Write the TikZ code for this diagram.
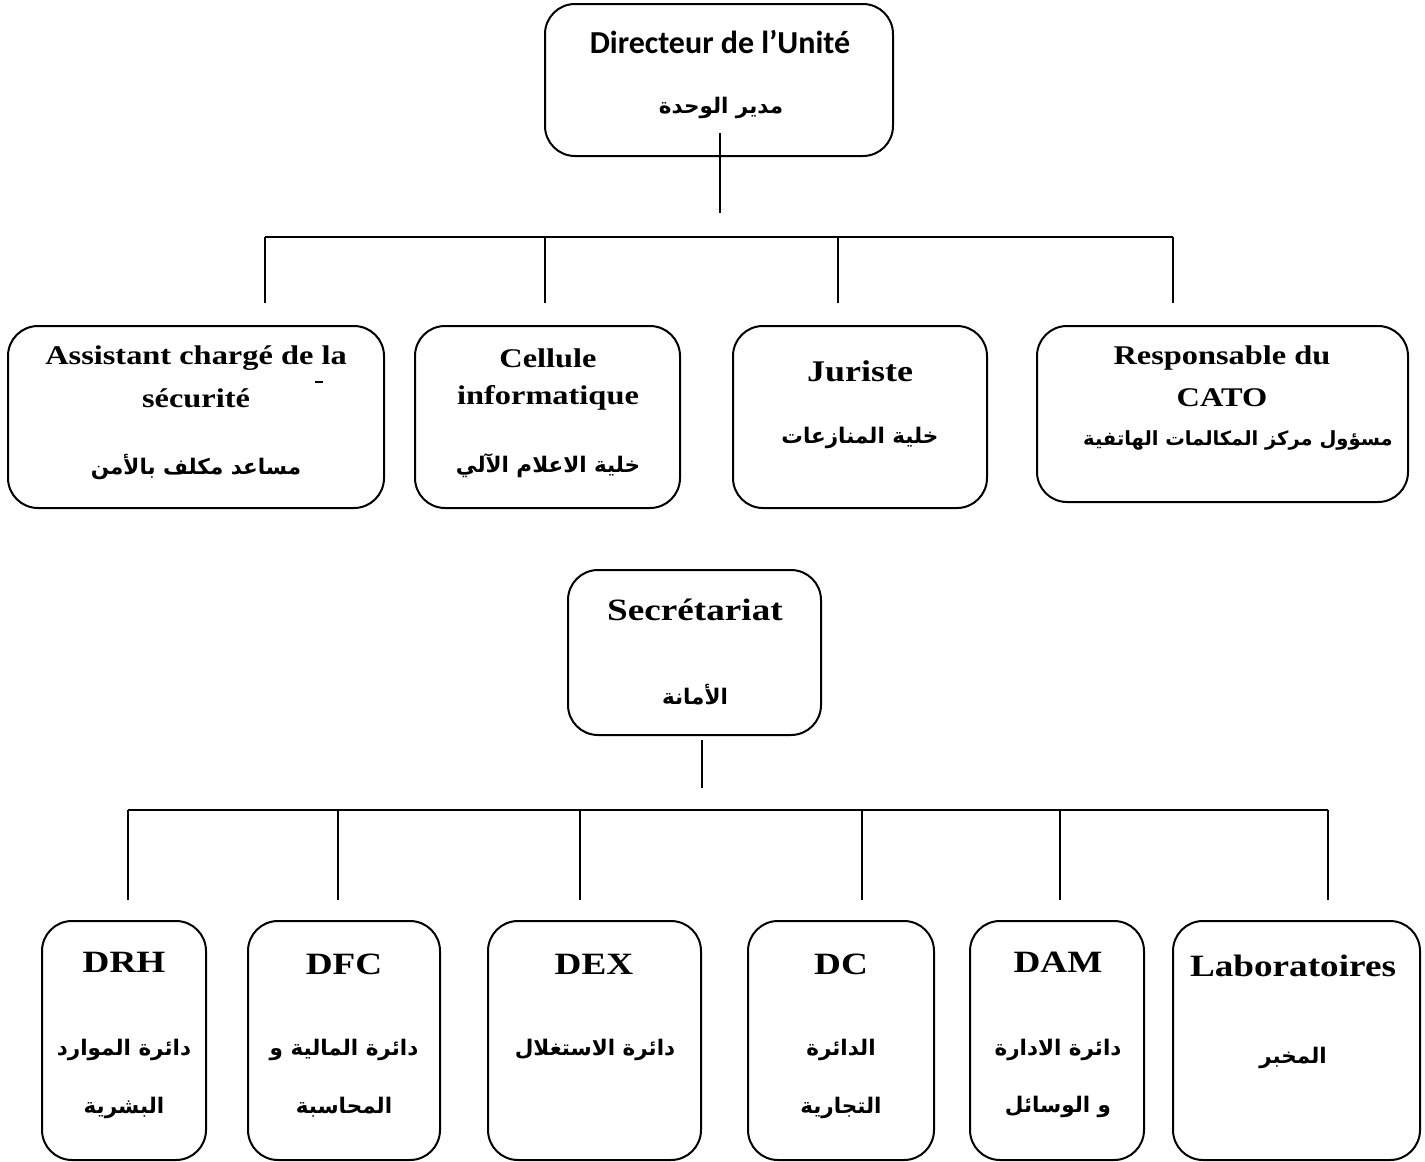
\documentclass[tikz,border=0pt]{standalone}
\usepackage{fontspec}
\TeXXeTstate=1
\setmainfont[FakeStretch=1.2]{Liberation Serif}
\newfontfamily\calfont{Carlito}
\newfontfamily\arabicfont[Script=Arabic]{DejaVu Sans}
\begin{document}
\begin{tikzpicture}[x=1pt,y=-1pt,
  box/.style={draw, line width=2pt, rounded corners=30pt, inner sep=0pt, outer sep=0pt},
  lat/.style={font=\bfseries\fontsize{27}{32}\selectfont, inner sep=0pt, align=center},
  latbig/.style={font=\bfseries\fontsize{31}{36}\selectfont, inner sep=0pt},
  ar/.style={font=\arabicfont\bfseries\fontsize{21.5}{26}\selectfont, inner sep=0pt},
  link/.style={line width=1.5pt}]
\useasboundingbox[fill=white] (0,0) rectangle (1425,1162);

% --- head of the unit
\node[box, minimum width=348pt, minimum height=152pt] (dir) at (719,80) {};
\node[font=\calfont\bfseries\fontsize{32}{38}\selectfont, inner sep=0pt] (dirfr) at (720,42) {Directeur de l’Unité};
\node[ar] (dirar) at (721,108) {\beginR مدير الوحدة\endR};

% --- first level
\node[box, minimum width=376pt, minimum height=182pt] (asst) at (196,417) {};
\node[lat] (asstfr1) at (196,358) {Assistant chargé de la};
\node[lat] (asstfr2) at (196,398) {sécurité};
\node[ar] (asstar) at (196,467) {\beginR مساعد مكلف بالأمن\endR};
\draw[link] (315,382) -- (323,382);

\node[box, minimum width=265pt, minimum height=182pt] (cell) at (547.5,417) {};
\node[lat] (cellfr1) at (548,358) {Cellule};
\node[lat] (cellfr2) at (548,398) {informatique};
\node[ar] (cellar) at (548,466) {\beginR خلية الاعلام الآلي\endR};

\node[box, minimum width=254pt, minimum height=182pt] (jur) at (860,417) {};
\node[font=\bfseries\fontsize{30}{35}\selectfont, inner sep=0pt] (jurfr) at (860,371) {Juriste};
\node[ar] (jurar) at (860,438) {\beginR خلية المنازعات\endR};

\node[box, minimum width=371pt, minimum height=176pt] (resp) at (1222.5,414) {};
\node[lat] (respfr1) at (1222,358) {Responsable du};
\node[lat] (respfr2) at (1222,398) {CATO};
\node[ar, font=\arabicfont\bfseries\fontsize{19.5}{24}\selectfont] (respar) at (1238,440) {\beginR مسؤول مركز المكالمات الهاتفية\endR};

% --- secretariat
\node[box, minimum width=253pt, minimum height=165pt] (sec) at (694.5,652.5) {};
\node[latbig] (secfr) at (695,610) {Secrétariat};
\node[ar] (secar) at (695,695) {\beginR الأمانة\endR};

% --- departments
\node[box, minimum width=164pt, minimum height=239pt] (drh) at (124,1040.5) {};
\node[latbig] (drhfr) at (124,962) {DRH};
\node[ar] (drhar1) at (124,1050) {\beginR دائرة الموارد\endR};
\node[ar] (drhar2) at (124,1108) {\beginR البشرية\endR};

\node[box, minimum width=192pt, minimum height=239pt] (dfc) at (344,1040.5) {};
\node[latbig] (dfcfr) at (344,964) {DFC};
\node[ar] (dfcar1) at (344,1050) {\beginR دائرة المالية و\endR};
\node[ar] (dfcar2) at (344,1107) {\beginR المحاسبة\endR};

\node[box, minimum width=213pt, minimum height=239pt] (dex) at (594.5,1040.5) {};
\node[latbig] (dexfr) at (594,964) {DEX};
\node[ar] (dexar) at (595,1050) {\beginR دائرة الاستغلال\endR};

\node[box, minimum width=186pt, minimum height=239pt] (dc) at (841,1040.5) {};
\node[latbig] (dcfr) at (841,964) {DC};
\node[ar] (dcar1) at (841,1050) {\beginR الدائرة\endR};
\node[ar] (dcar2) at (841,1108) {\beginR التجارية\endR};

\node[box, minimum width=174pt, minimum height=239pt] (dam) at (1057,1040.5) {};
\node[latbig] (damfr) at (1058,962) {DAM};
\node[ar] (damar1) at (1058,1050) {\beginR دائرة الادارة\endR};
\node[ar] (damar2) at (1058,1107) {\beginR و الوسائل\endR};

\node[box, minimum width=247pt, minimum height=239pt] (lab) at (1296.5,1040.5) {};
\node[latbig] (labfr) at (1293,966) {Laboratoires};
\node[ar] (labar) at (1293,1058) {\beginR المخبر\endR};

% --- connectors, upper tree
\coordinate (d0) at (720,133);
\coordinate (d1) at (720,213);
\coordinate (ua) at (265,237);
\coordinate (ub) at (545,237);
\coordinate (uc) at (838,237);
\coordinate (ud) at (1173,237);
\coordinate (ta) at (265,303);
\coordinate (tb) at (545,303);
\coordinate (tc) at (838,303);
\coordinate (td) at (1173,303);
\draw[link] (d0) -- (d1);
\draw[link] (ua) -- (ud);
\draw[link] (ua) -- (ta);
\draw[link] (ub) -- (tb);
\draw[link] (uc) -- (tc);
\draw[link] (ud) -- (td);

% --- connectors, lower tree
\coordinate (s0) at (702,740);
\coordinate (s1) at (702,788);
\coordinate (la) at (128,810);
\coordinate (lb) at (338,810);
\coordinate (lc) at (580,810);
\coordinate (ld) at (862,810);
\coordinate (le) at (1060,810);
\coordinate (lf) at (1328,810);
\coordinate (ba) at (128,900);
\coordinate (bb) at (338,900);
\coordinate (bc) at (580,900);
\coordinate (bd) at (862,900);
\coordinate (be) at (1060,900);
\coordinate (bf) at (1328,900);
\draw[link] (s0) -- (s1);
\draw[link] (la) -- (lf);
\draw[link] (la) -- (ba);
\draw[link] (lb) -- (bb);
\draw[link] (lc) -- (bc);
\draw[link] (ld) -- (bd);
\draw[link] (le) -- (be);
\draw[link] (lf) -- (bf);
\end{tikzpicture}
\end{document}
